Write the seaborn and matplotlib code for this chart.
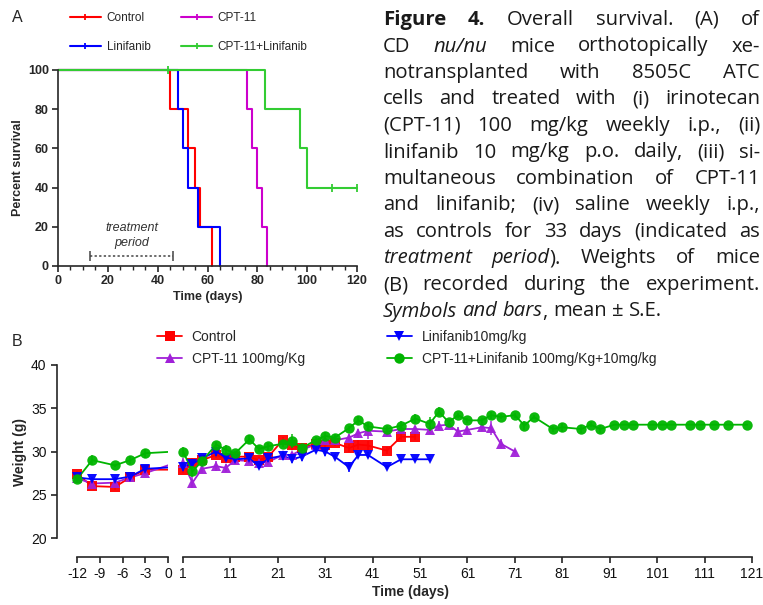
import numpy as np
import pandas as pd
import matplotlib
matplotlib.use('Agg')
import matplotlib.pyplot as plt
import matplotlib.ticker as mticker
from matplotlib.lines import Line2D
import seaborn as sns

W, H = 763, 605

# ---- panel A: survival (step curves) ----
ctrl_t = [0, 45, 52, 55, 57, 62]
ctrl_s = [100, 80, 60, 40, 20, 0]
lin_t = [0, 48, 50, 52, 56, 65]
lin_s = [100, 80, 60, 40, 20, 0]
cpt_t = [0, 76, 78, 80, 82, 84]
cpt_s = [100, 80, 60, 40, 20, 0]
combo_t = [0, 83, 97, 100, 120]
combo_s = [100, 80, 60, 40, 40]
censor_t = [44, 110, 120]
censor_s = [100, 40, 40]
treat_start, treat_end, treat_y = 13, 46, 5.3

km_names = ['Control', 'Linifanib', 'CPT-11', 'CPT-11+Linifanib']
km_colors = ['#ff0000', '#0000ff', '#cc00cc', '#33cc33']

# ---- panel B: body weight ----
pre_days = [-12, -10, -7, -5, -3]
tr_days = [1, 3, 5, 8, 10, 12, 15, 17, 19, 22, 24, 26, 29, 31, 33, 36, 38, 40, 44, 47,
           50, 53, 55, 57, 59, 61, 64, 66, 68, 71, 73, 75, 79, 81, 85, 87, 89, 92, 94, 96,
           100, 102, 104, 108, 110, 113, 116, 120]

ctrl_pre = [27.4, 26.0, 25.9, 27.0, 27.9]
ctrl_pre_err = [0.4, 0.3, 0.3, 0.3, 0.4]
ctrl_w = [27.9, 28.7, 29.0, 29.6, 29.2, 29.4, 29.4, 29.0, 29.4, 31.3, 30.7, 30.4, 30.9, 30.8,
          31.0, 30.4, 30.8, 30.7, 30.1, 31.7, 31.7]
ctrl_err = [0.4, 0.6, 0.3, 0.4, 0.4, 0.3, 0.3, 0.4, 0.4, 0.4, 0.5, 0.6, 0.5, 0.4, 0.4, 0.5,
            0.5, 0.5, 0.4, 0.4, 0.4]

cpt_pre = [26.9, 26.3, 26.4, 27.0, 27.5]
cpt_pre_err = [0.3, 0.3, 0.3, 0.2, 0.3]
cpt_w = [28.7, 26.4, 28.0, 28.3, 28.1, 29.0, 28.9, 28.7, 28.8, 29.6, 29.6, 30.2, 30.8, 31.3,
         31.3, 31.6, 32.1, 32.4, 32.3, 32.6, 32.6, 32.5, 33.0, 33.1, 32.3, 32.5, 32.8, 32.7,
         30.9, 30.0]
cpt_err = [0.5, 0.6, 0.5, 0.6, 0.5, 0.4, 0.4, 0.4, 0.4, 0.4, 0.4, 0.4, 0.5, 0.5, 0.5, 0.4,
           0.5, 0.9, 0.5, 0.4, 0.4, 0.5, 0.5, 0.4, 0.5, 0.5, 0.4, 0.8, 0.5, 0.2]

lin_pre = [27.0, 26.8, 26.8, 27.1, 28.0]
lin_pre_err = [0.3, 0.3, 0.3, 0.2, 0.3]
lin_w = [28.2, 28.6, 29.2, 30.0, 29.3, 29.1, 29.2, 28.3, 29.2, 29.5, 29.1, 29.4, 30.2, 30.0,
         29.4, 28.2, 29.6, 29.6, 28.2, 29.1, 29.1, 29.1]
lin_err = [0.4, 0.3, 0.3, 0.5, 0.4, 0.3, 0.3, 0.3, 0.4, 0.5, 0.4, 0.5, 0.4, 0.5, 0.3, 0.6,
           0.4, 0.4, 0.2, 0.2, 0.2, 0.2]

combo_pre = [26.8, 29.0, 28.4, 29.0, 29.8]
combo_pre_err = [0.4, 0.6, 0.2, 0.5, 0.5]
combo_w = [30.0, 27.7, 28.9, 30.8, 30.2, 29.8, 31.4, 30.3, 30.6, 30.9, 31.2, 30.4, 31.3, 31.8,
           31.6, 32.7, 33.6, 32.9, 32.6, 33.0, 33.8, 33.2, 34.6, 33.4, 34.2, 33.6, 33.6, 34.2,
           34.0, 34.2, 33.0, 34.0, 32.6, 32.8, 32.6, 33.1, 32.6, 33.1, 33.1, 33.1, 33.1, 33.1,
           33.1, 33.1, 33.1, 33.1, 33.1, 33.1]
combo_err = [0.5, 0.6, 0.4, 0.3, 0.5, 0.3, 0.5, 0.4, 0.4, 0.4, 0.8, 0.3, 0.4, 0.4, 0.4, 0.3,
             0.5, 0.5, 0.3, 0.5, 0.5, 0.8, 0.5, 0.4, 0.3, 0.3, 0.3, 0.4, 0.3, 0.3, 0.5, 0.2,
             0.3, 0.5, 0.5, 0.3, 0.5] + [0.0] * 11

wt_names = ['Control', 'CPT-11 100mg/Kg', 'Linifanib10mg/kg', 'CPT-11+Linifanib 100mg/Kg+10mg/kg']
wt_colors = ['#ff0000', '#a020d8', '#0000ff', '#00b400']
wt_markers = ['s', '^', 'v', 'o']

caption = [
    '#Figure 4.# Overall survival. (A) of',
    'CD _nu/nu_ mice orthotopically xe-',
    'notransplanted with 8505C ATC',
    'cells and treated with (i) irinotecan',
    '(CPT-11) 100 mg/kg weekly i.p., (ii)',
    'linifanib 10 mg/kg p.o. daily, (iii) si-',
    'multaneous combination of CPT-11',
    'and linifanib; (iv) saline weekly i.p.,',
    'as controls for 33 days (indicated as',
    '_treatment period_). Weights of mice',
    '(B) recorded during the experiment.',
    '_Symbols and bars_, mean \u00b1 S.E.',
]

sns.set_style('ticks')
plt.rcParams['font.family'] = ['Liberation Sans', 'DejaVu Sans']
plt.rcParams['axes.linewidth'] = 1.2
plt.rcParams['axes.unicode_minus'] = False

fig = plt.figure(figsize=(W / 100, H / 100), dpi=100)


def fbox(l, t, r, b):
    return [l / W, 1 - b / H, (r - l) / W, (b - t) / H]


# ================= panel A =================
ax_a = fig.add_axes(fbox(58, 70, 357, 266))
km = pd.concat([
    pd.DataFrame({'time': t, 'surv': s, 'group': n})
    for t, s, n in zip([ctrl_t, lin_t, cpt_t, combo_t], [ctrl_s, lin_s, cpt_s, combo_s], km_names)
])
sns.lineplot(data=km, x='time', y='surv', hue='group', hue_order=km_names,
             palette=km_colors, estimator=None, sort=False, drawstyle='steps-post',
             lw=1.5, legend=False, clip_on=False, ax=ax_a)
ax_a.plot(censor_t, censor_s, ls='none', marker='|', ms=6, mew=1.3, color=km_colors[3], clip_on=False)
ax_a.plot([treat_start, treat_end], [treat_y, treat_y], ls=(0, (1.5, 1.5)), lw=1.1, color='#444444')
ax_a.plot([treat_start, treat_end], [treat_y, treat_y], ls='none', marker='|', ms=7, mew=1.1, color='#444444')
ax_a.text((treat_start + treat_end) / 2, 19.5, 'treatment', ha='center', va='center',
          fontsize=9, style='italic', color='#333333')
ax_a.text((treat_start + treat_end) / 2, 11.5, 'period', ha='center', va='center',
          fontsize=9, style='italic', color='#333333')
ax_a.set_xlim(0, 120)
ax_a.set_ylim(0, 100)
ax_a.xaxis.set_major_locator(mticker.MultipleLocator(20))
ax_a.xaxis.set_minor_locator(mticker.MultipleLocator(5))
ax_a.yaxis.set_major_locator(mticker.MultipleLocator(20))
ax_a.tick_params(which='major', length=4.5, width=1.2, labelsize=9, pad=2)
ax_a.tick_params(which='minor', length=3, width=1.0)
for lbl in ax_a.get_xticklabels() + ax_a.get_yticklabels():
    lbl.set_fontweight('bold')
ax_a.set_xlabel('Time (days)', fontsize=9, fontweight='bold')
ax_a.set_ylabel('Percent survival', fontsize=9, fontweight='bold')
ax_a.xaxis.set_label_coords(0.5, -0.13)
ax_a.yaxis.set_label_coords(-0.115, 0.5)
sns.despine(ax=ax_a)

km_handles = [Line2D([], [], color=c, lw=1.5, marker='|', ms=5, mew=1.3) for c in km_colors]
fig.legend(km_handles, km_names, ncol=2, loc='upper left',
           bbox_to_anchor=(70 / W, 1 - 12 / H), frameon=False, fontsize=8.5,
           handlelength=2.6, handletextpad=0.5, columnspacing=2.6, labelspacing=1.45,
           borderaxespad=0, borderpad=0)

# ================= panel B =================
ax_bl = fig.add_axes(fbox(57, 365, 168, 538))
ax_br = fig.add_axes(fbox(183, 365, 752, 538))

pre_sets = [ctrl_pre, cpt_pre, lin_pre, combo_pre]
pre_errs = [ctrl_pre_err, cpt_pre_err, lin_pre_err, combo_pre_err]
tr_sets = [ctrl_w, cpt_w, lin_w, combo_w]
tr_errs = [ctrl_err, cpt_err, lin_err, combo_err]
frames = []
for name, pw, pe, tw, te in zip(wt_names, pre_sets, pre_errs, tr_sets, tr_errs):
    frames.append(pd.DataFrame({'day': pre_days + tr_days[:len(tw)],
                                'weight': pw + tw, 'err': pe + te, 'group': name}))
wt = pd.concat(frames, ignore_index=True)

for ax, lo, hi in [(ax_bl, -14.64, 0), (ax_br, 1, 121)]:
    for i, (name, col, mk) in enumerate(zip(wt_names, wt_colors, wt_markers)):
        sub = wt[wt.group == name]
        sns.lineplot(data=sub, x='day', y='weight', color=col, estimator=None,
                     lw=1.3, legend=False, zorder=2 + i, ax=ax)
        inr = sub[(sub.day >= lo) & (sub.day <= hi)]
        eb = ax.errorbar(inr.day, inr.weight, yerr=inr.err, fmt=mk, color=col,
                         ms=7.5 if mk != 's' else 7, mew=0, capsize=3.5, elinewidth=1.1,
                         capthick=1.1, ecolor=col, alpha=0.95, zorder=3 + i)
        for art in eb.get_children():
            art.set_clip_on(False)
    ax.set_xlim(lo, hi)
    ax.set_ylim(20, 40)
    ax.set_xlabel('')
    ax.set_ylabel('')
    ax.spines['top'].set_visible(False)
    ax.spines['right'].set_visible(False)
    ax.spines['bottom'].set_position(('outward', 13.7))
    ax.tick_params(length=4.5, width=1.1, labelsize=10, pad=3, colors='#111111')

ax_bl.spines['bottom'].set_bounds(-12, 0)
ax_bl.set_xticks([-12, -9, -6, -3, 0])
ax_bl.set_yticks([20, 25, 30, 35, 40])
ax_bl.spines['left'].set_bounds(20, 40)
ax_bl.set_ylabel('Weight (g)', fontsize=10, fontweight='bold')
ax_bl.yaxis.set_label_coords(-0.27, 0.5)

ax_br.spines['bottom'].set_bounds(1, 121)
ax_br.set_xticks(list(range(1, 122, 10)))
ax_br.spines['left'].set_visible(False)
ax_br.tick_params(axis='y', left=False, labelleft=False)

fig.text(410 / W, 1 - 592 / H, 'Time (days)', ha='center', va='center',
         fontsize=10, fontweight='bold')

wt_handles = [Line2D([], [], color=c, lw=1.3, marker=m, ms=7.5 if m != 's' else 7, mew=0)
              for c, m in zip(wt_colors, wt_markers)]
fig.legend(wt_handles, wt_names, ncol=2, loc='upper left',
           bbox_to_anchor=(157 / W, 1 - 330 / H), frameon=False, fontsize=10,
           handlelength=1.8, handletextpad=0.7, columnspacing=5.9, labelspacing=0.6,
           borderaxespad=0, borderpad=0)

# panel letters
fig.text(12 / W, 1 - 18 / H, 'A', fontsize=11.5, va='center', ha='left')
fig.text(12 / W, 1 - 341 / H, 'B', fontsize=11.5, va='center', ha='left')

# ================= caption (justified) =================
cap_font = ['Open Sans', 'DejaVu Sans']
L, R = 383, 760
base0, lead = 25, 26.5
renderer = fig.canvas.get_renderer()


def parse(line):
    words, cur, buf, style = [], [], '', 'n'
    for ch in line:
        if ch in '#_':
            if buf:
                cur.append((buf, style))
                buf = ''
            tog = 'b' if ch == '#' else 'i'
            style = 'n' if style == tog else tog
        elif ch == ' ':
            if buf:
                cur.append((buf, style))
                buf = ''
            if cur:
                words.append(cur)
                cur = []
        else:
            buf += ch
    if buf:
        cur.append((buf, style))
    if cur:
        words.append(cur)
    return words


def make(s, st, fs):
    return fig.text(0, 0, s, fontsize=fs, family=cap_font,
                    fontweight='bold' if st == 'b' else 'normal',
                    fontstyle='italic' if st == 'i' else 'normal',
                    ha='left', va='baseline', color='#1a1a1a')


def width_of(s, st, fs):
    t = make(s, st, fs)
    w = t.get_window_extent(renderer).width
    t.remove()
    return w


def space_w(fs):
    return width_of('n n', 'n', fs) - width_of('nn', 'n', fs)


# font size: the tightest justified line gets a little more than a normal space
probe = 10.0
need = 0
for line in caption[:-1]:
    words = parse(line)
    tot = sum(width_of(s, st, probe) for w in words for s, st in w)
    tot += space_w(probe) * (len(words) - 1)
    need = max(need, tot)
cap_fs = 0.9 * probe * (R - L) / need
sp_w = space_w(cap_fs)

for k, line in enumerate(caption):
    items = []
    for w in parse(line):
        segs = []
        for s, st in w:
            t = make(s, st, cap_fs)
            segs.append((t, t.get_window_extent(renderer).width))
        items.append(segs)
    widths = [sum(wd for _, wd in segs) for segs in items]
    last = k == len(caption) - 1
    gap = sp_w if last or len(items) < 2 else (R - L - sum(widths)) / (len(items) - 1)
    x = L
    y = 1 - (base0 + k * lead) / H
    for segs, wtot in zip(items, widths):
        xx = x
        for t, wd in segs:
            t.set_position((xx / W, y))
            xx += wd
        x += wtot + gap

fig.savefig('out.png', dpi=100)
